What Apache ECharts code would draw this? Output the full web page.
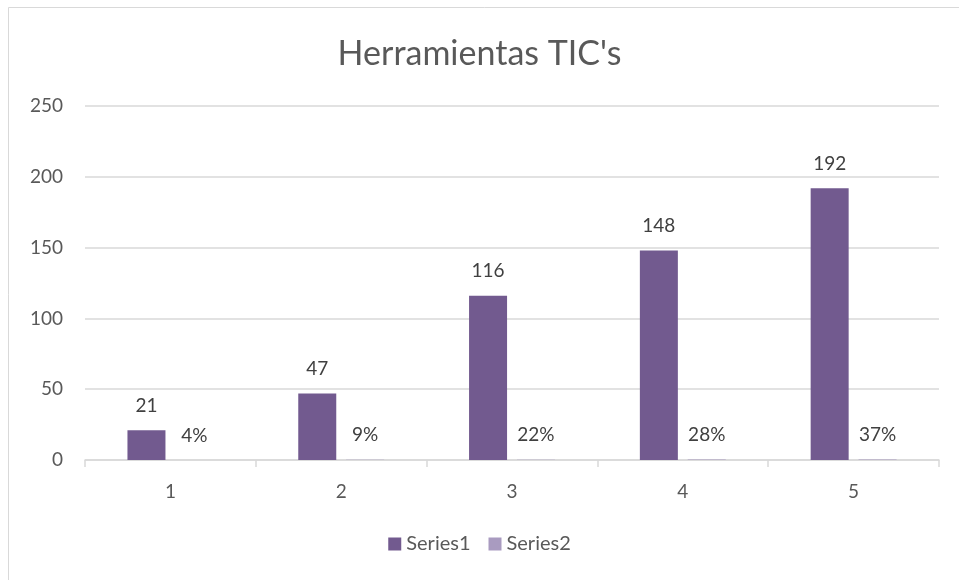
<!DOCTYPE html>
<html>
<head>
<meta charset="utf-8">
<script src="https://cdn.jsdelivr.net/npm/echarts@6/dist/echarts.min.js"></script>
<style>
  html, body { margin: 0; padding: 0; background: #fff; }
  #main { width: 959px; height: 580px; }
</style>
</head>
<body>
<div id="main"></div>
<script>
var categories = ['1', '2', '3', '4', '5'];
var series1 = [21, 47, 116, 148, 192];
var series2 = [0.04, 0.09, 0.22, 0.28, 0.37];
var yTicks = { min: 0, max: 250, interval: 50 };

var textColor = '#595959';
var labelColor = '#404040';
var fontName = 'Lato, "Open Sans", sans-serif';

var chart = echarts.init(document.getElementById('main'));
var option = {
    backgroundColor: '#fff',
    animation: false,
    textStyle: { fontFamily: fontName },
    graphic: [{
        type: 'rect',
        shape: { x: 8.5, y: 7.5, width: 1000, height: 700 },
        style: { fill: 'none', stroke: '#D9D9D9', lineWidth: 1 }
    }],
    title: {
        text: "Herramientas TIC's",
        left: 'center',
        top: 32,
        textStyle: { color: textColor, fontSize: 34, fontWeight: 'normal', fontFamily: fontName }
    },
    legend: {
        data: ['Series1', 'Series2'],
        bottom: 21,
        left: 'center',
        itemWidth: 13,
        itemHeight: 13,
        itemGap: 18,
        icon: 'rect',
        textStyle: { color: textColor, fontSize: 20, fontFamily: fontName }
    },
    grid: { left: 85, right: 20, top: 106, bottom: 120, containLabel: false },
    xAxis: {
        type: 'category',
        data: categories,
        axisLine: { lineStyle: { color: '#D9D9D9', width: 1.5 } },
        axisTick: { show: true, length: 7, lineStyle: { color: '#D9D9D9', width: 1.5 } },
        axisLabel: { color: textColor, fontSize: 19, margin: 22 }
    },
    yAxis: {
        type: 'value',
        min: yTicks.min,
        max: yTicks.max,
        interval: yTicks.interval,
        axisLine: { show: false },
        axisTick: { show: false },
        axisLabel: { color: textColor, fontSize: 19, margin: 22 },
        splitLine: { lineStyle: { color: '#D9D9D9', width: 1.5 } }
    },
    series: [{
        name: 'Series1',
        type: 'bar',
        data: series1,
        barWidth: 38,
        barGap: '26%',
        itemStyle: { color: '#725A8F' },
        label: { show: true, position: 'top', distance: 15, color: labelColor, fontSize: 19 }
    }, {
        name: 'Series2',
        type: 'bar',
        data: series2,
        barWidth: 38,
        itemStyle: { color: '#A99BC0' },
        label: {
            show: true, position: 'top', distance: 15, color: labelColor, fontSize: 19,
            formatter: function (p) { return Math.round(p.value * 100) + '%'; }
        }
    }]
};
chart.setOption(option);
</script>
</body>
</html>
